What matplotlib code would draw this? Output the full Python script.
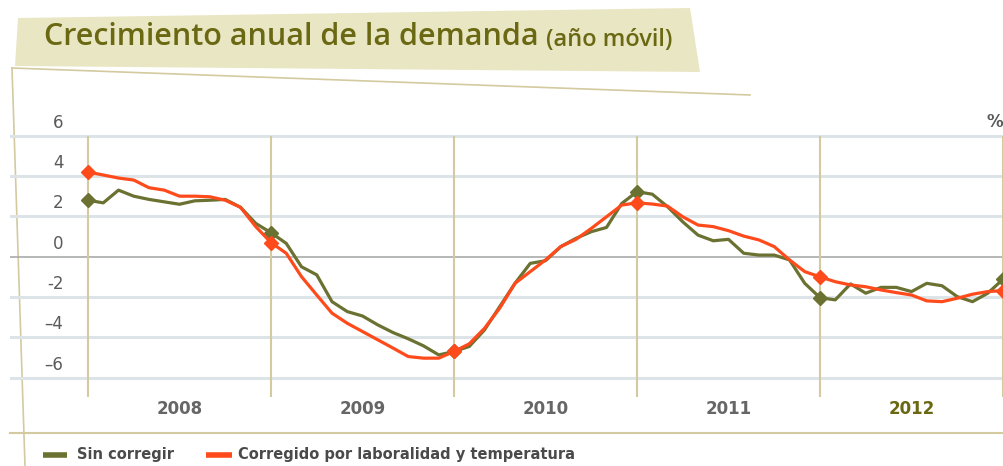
import numpy as np
import matplotlib.pyplot as plt
from matplotlib.patches import Polygon

# ── Data (monthly, Dec 2007 .. Dec 2012) ──────────────────────────────────────
months = np.arange(61)
sin_corregir = [
    2.8, 2.67, 3.3, 3.0, 2.84, 2.72, 2.6, 2.77, 2.8, 2.84, 2.45, 1.65, 1.19,
    0.66, -0.5, -0.9, -2.23, -2.72, -2.94, -3.38, -3.76, -4.07, -4.42, -4.87, -4.7,
    -4.45, -3.63, -2.47, -1.32, -0.33, -0.2, 0.5, 0.91, 1.24, 1.45, 2.64, 3.22,
    3.1, 2.48, 1.73, 1.07, 0.79, 0.86, 0.17, 0.08, 0.08, -0.16, -1.32, -2.03,
    -2.14, -1.35, -1.81, -1.52, -1.52, -1.73, -1.32, -1.44, -1.98, -2.23, -1.81, -1.12,
]
corregido = [
    4.2, 4.05, 3.9, 3.8, 3.42, 3.3, 3.0, 3.0, 2.97, 2.8, 2.45, 1.49, 0.7,
    0.17, -0.99, -1.9, -2.8, -3.3, -3.71, -4.12, -4.53, -4.95, -5.03, -5.03, -4.7,
    -4.32, -3.55, -2.55, -1.32, -0.74, -0.16, 0.5, 0.86, 1.4, 1.98, 2.56, 2.67,
    2.61, 2.51, 1.98, 1.57, 1.49, 1.29, 1.02, 0.83, 0.5, -0.16, -0.74, -1.0,
    -1.24, -1.4, -1.49, -1.65, -1.78, -1.9, -2.19, -2.23, -2.06, -1.86, -1.73, -1.68,
]
years = ["2008", "2009", "2010", "2011", "2012"]
y_ticks = [6, 4, 2, 0, -2, -4, -6]
y_tick_labels = ["6", "4", "2", "0", "-2", "\u20134", "\u20136"]

GREEN = "#6b7131"
RED = "#ff4b1c"
KHAKI = "#d3caa0"
GRID = "#dde4e8"
LABEL = "#5a5a5a"
OLIVE_TXT = "#6a6812"

W, H = 1004, 466
fig = plt.figure(figsize=(W / 100, H / 100), dpi=100)

# ── Decoration layer in pixel coordinates ─────────────────────────────────────
deco = fig.add_axes([0, 0, 1, 1])
deco.set_xlim(0, W)
deco.set_ylim(H, 0)
deco.axis("off")

deco.add_patch(Polygon([(18, 18), (690, 8), (700, 72), (15, 66)], closed=True,
                       facecolor="#e9e6c3", edgecolor="none"))
deco.text(44, 37, "Crecimiento anual de la demanda", color=OLIVE_TXT,
          fontsize=22, family="Open Sans", fontweight="semibold", va="center", ha="left")
deco.text(546, 40, "(año móvil)", color=OLIVE_TXT,
          fontsize=17, family="Open Sans", fontweight="semibold", va="center", ha="left")

deco.plot([12, 750], [68, 95], color=KHAKI, lw=1.2)
deco.plot([12, 25], [68, 466], color=KHAKI, lw=1.2)
deco.plot([10, W], [433, 433], color=KHAKI, lw=1.5)

# legend
deco.plot([43, 67], [455, 455], color=GREEN, lw=4, solid_capstyle="butt")
deco.text(77, 455, "Sin corregir", color="#4a4a4a", fontsize=10.5,
          fontweight="bold", va="center", ha="left")
deco.plot([206, 232], [455, 455], color=RED, lw=4, solid_capstyle="butt")
deco.text(238, 455, "Corregido por laboralidad y temperatura", color="#4a4a4a",
          fontsize=10.5, fontweight="bold", va="center", ha="left")

# ── Chart layer ───────────────────────────────────────────────────────────────
# month -> px: 88 + m*15.25 ; value -> px: 256.7 - v*20.17
x0_px, dx = 88.0, 15.25
y0_px, dy = 256.7, 20.17
xl = ((10 - x0_px) / dx, (W - x0_px) / dx)
yl = ((y0_px - 448) / dy, (y0_px - 110) / dy)
ax = fig.add_axes([10 / W, (H - 448) / H, (W - 10) / W, (448 - 110) / H])
ax.set_xlim(*xl)
ax.set_ylim(*yl)
ax.axis("off")
ax.patch.set_alpha(0)

for v in y_ticks:
    if v == 0:
        ax.axhline(v, color="#a9abab", lw=1.2, zorder=1)
    else:
        ax.axhline(v, color=GRID, lw=2.2, zorder=1)
for v, lab in zip(y_ticks, y_tick_labels):
    ax.text(-1.6, v + 0.2, lab, ha="right", va="bottom", color=LABEL,
            fontsize=12, zorder=2)
ax.text(60.0, 6.25, "%", ha="right", va="bottom", color=LABEL,
        fontsize=12, fontweight="bold")

ax.vlines(np.arange(0, 61, 12), -6.95, 6, color=KHAKI, lw=1.5, zorder=1)
for i, yr in enumerate(years):
    ax.text(6 + 12 * i, -7.55, yr, ha="center", va="center",
            color=OLIVE_TXT if yr == "2012" else "#666666",
            fontsize=12, fontweight="bold")

marks = list(range(0, 61, 12))
ax.plot(months, sin_corregir, color=GREEN, lw=2.3, marker="D", markersize=7,
        markevery=marks, zorder=3, clip_on=False)
ax.plot(months, corregido, color=RED, lw=2.3, marker="D", markersize=7,
        markevery=marks, zorder=4, clip_on=False)

fig.savefig("out.png", dpi=100, facecolor="white")
